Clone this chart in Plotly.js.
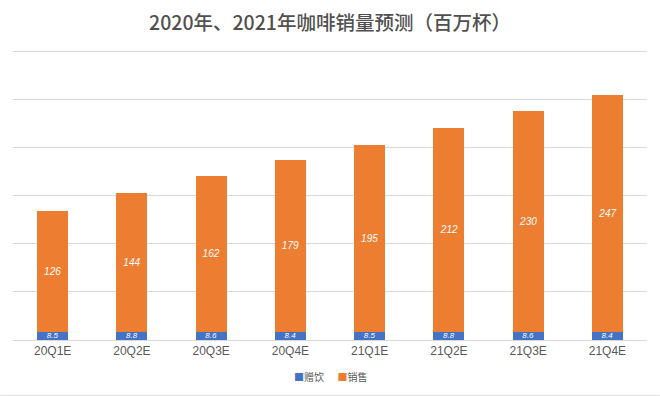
<!DOCTYPE html>
<html>
<head>
<meta charset="utf-8">
<script src="https://cdn.plot.ly/plotly-3.0.1.min.js"></script>
<style>html,body{margin:0;padding:0;background:#fff;}#chart{width:660px;height:397px;}</style>
</head>
<body>
<div id="chart"></div>
<script>
const categories = ["20Q1E","20Q2E","20Q3E","20Q4E","21Q1E","21Q2E","21Q3E","21Q4E"];
const giftValues = [8.5, 8.8, 8.6, 8.4, 8.5, 8.8, 8.6, 8.4];
const salesValues = [126, 144, 162, 179, 195, 212, 230, 247];
const seriesNames = ["赠饮", "销售"];
const seriesColors = ['#4472C4', '#ED7D31'];

const cjk = '"Noto Sans CJK SC", "Noto Sans", sans-serif';

const traces = [
  {
    type: 'bar', name: seriesNames[0], x: categories, y: giftValues,
    marker: {color: seriesColors[0]},
    text: giftValues.map(v => '<i>' + v.toFixed(1) + '</i>'),
    textposition: 'inside', insidetextanchor: 'middle',
    textfont: {color: '#ffffff', size: 8, family: '"Liberation Sans", Arial, sans-serif'},
    constraintext: 'none', cliponaxis: false, hoverinfo: 'skip'
  },
  {
    type: 'bar', name: seriesNames[1], x: categories, y: salesValues,
    marker: {color: seriesColors[1]},
    text: salesValues.map(v => '<i>' + v + '</i>'),
    textposition: 'inside', insidetextanchor: 'middle',
    textfont: {color: '#ffffff', size: 10, family: '"Liberation Sans", Arial, sans-serif'},
    constraintext: 'none', hoverinfo: 'skip'
  }
];

const layout = {
  width: 660, height: 397,
  margin: {l: 13, r: 13, t: 49, b: 57},
  paper_bgcolor: '#ffffff', plot_bgcolor: '#ffffff',
  barmode: 'stack', bargap: 0.61,
  title: {
    text: '2020年、2021年咖啡销量预测（百万杯）',
    x: 0.5, xanchor: 'center', y: 0.942, yanchor: 'middle',
    font: {family: cjk, size: 19.5, color: '#505050', weight: 500}
  },
  xaxis: {
    type: 'category', showgrid: false, zeroline: false,
    showline: true, linecolor: '#d9d9d9', linewidth: 1,
    ticks: '', tickfont: {family: '"Liberation Sans", Arial, sans-serif', size: 12, color: '#595959'}
  },
  yaxis: {
    range: [0, 303], tick0: 0, dtick: 50, showgrid: true, gridcolor: '#d9d9d9', gridwidth: 1,
    zeroline: false, showticklabels: false, ticks: '', fixedrange: true
  },
  showlegend: false,
  annotations: [
    {xref: 'paper', yref: 'paper', x: 0.5, y: -0.125, xanchor: 'center', yanchor: 'middle',
     showarrow: false,
     text: '<span style="color:' + seriesColors[0] + '">■</span>' + seriesNames[0] +
           '      <span style="color:' + seriesColors[1] + '">■</span>' + seriesNames[1],
     font: {family: cjk, size: 10, color: '#595959'}}
  ],
  shapes: [
    {type: 'line', xref: 'paper', yref: 'paper', x0: -0.02, x1: 1.02, y0: -0.19, y1: -0.19,
     line: {color: '#e0e0e0', width: 1}}
  ]
};

Plotly.newPlot('chart', traces, layout, {displayModeBar: false, staticPlot: true});
</script>
</body>
</html>
